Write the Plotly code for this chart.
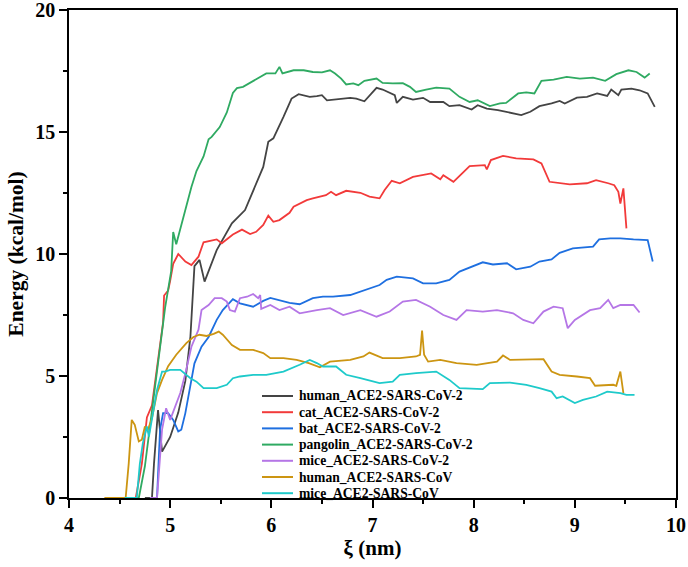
import plotly.graph_objects as go

# ---- data ----
human_cov2_x = [4.75, 4.82, 4.84, 4.88, 4.92, 5.0, 5.08, 5.15, 5.2, 5.23, 5.24, 5.29, 5.34, 5.46, 5.49, 5.61, 5.74, 5.85, 5.92, 5.97, 6.02, 6.12, 6.2, 6.27, 6.38, 6.45, 6.5, 6.55, 6.65, 6.78, 6.84, 6.92, 7.04, 7.1, 7.22, 7.24, 7.3, 7.4, 7.5, 7.57, 7.7, 7.76, 7.86, 7.98, 8.04, 8.13, 8.24, 8.36, 8.47, 8.56, 8.65, 8.77, 8.85, 8.9, 9.02, 9.12, 9.22, 9.32, 9.36, 9.43, 9.46, 9.56, 9.64, 9.72, 9.79]
human_cov2_y = [0, 0, 1.4, 3.6, 1.9, 2.5, 3.5, 4.8, 6.6, 8.9, 9.5, 9.76, 8.87, 10.16, 10.37, 11.26, 11.8, 12.9, 13.57, 14.6, 14.74, 15.62, 16.37, 16.55, 16.44, 16.47, 16.51, 16.3, 16.34, 16.4, 16.37, 16.26, 16.81, 16.74, 16.51, 16.19, 16.44, 16.33, 16.4, 16.23, 16.23, 16.06, 16.1, 15.92, 16.1, 15.96, 15.9, 15.78, 15.69, 15.83, 16.06, 16.17, 16.27, 16.17, 16.41, 16.44, 16.58, 16.48, 16.74, 16.51, 16.74, 16.78, 16.71, 16.58, 16.03]

cat_x = [4.6, 4.66, 4.72, 4.77, 4.82, 4.85, 4.88, 4.93, 4.94, 4.98, 5.0, 5.03, 5.08, 5.15, 5.21, 5.28, 5.33, 5.46, 5.51, 5.62, 5.71, 5.79, 5.85, 5.92, 5.97, 6.02, 6.08, 6.18, 6.22, 6.35, 6.41, 6.54, 6.59, 6.64, 6.74, 6.88, 6.97, 7.07, 7.12, 7.19, 7.27, 7.4, 7.58, 7.67, 7.7, 7.8, 7.96, 8.11, 8.13, 8.17, 8.29, 8.42, 8.59, 8.67, 8.75, 8.85, 8.95, 9.12, 9.21, 9.33, 9.39, 9.43, 9.45, 9.48, 9.51]
cat_y = [0, 0, 1.4, 3.3, 3.8, 4.7, 5.8, 7.2, 8.3, 8.5, 8.9, 9.6, 10.0, 9.69, 9.55, 9.89, 10.48, 10.6, 10.44, 10.8, 11.0, 10.82, 10.91, 11.19, 11.57, 11.32, 11.39, 11.69, 11.94, 12.21, 12.28, 12.41, 12.55, 12.41, 12.59, 12.51, 12.35, 12.28, 12.62, 13.0, 12.9, 13.16, 13.3, 13.06, 13.23, 12.96, 13.6, 13.64, 13.47, 13.85, 14.02, 13.92, 13.88, 13.71, 12.96, 12.92, 12.85, 12.9, 13.03, 12.9, 12.82, 12.55, 12.07, 12.69, 11.05]

bat_x = [4.8, 4.87, 4.9, 4.93, 4.98, 5.03, 5.08, 5.11, 5.15, 5.18, 5.21, 5.24, 5.31, 5.38, 5.46, 5.52, 5.62, 5.69, 5.82, 5.92, 5.99, 6.08, 6.18, 6.28, 6.41, 6.51, 6.61, 6.78, 6.94, 7.07, 7.14, 7.24, 7.4, 7.5, 7.63, 7.76, 7.86, 7.9, 8.0, 8.09, 8.19, 8.33, 8.42, 8.56, 8.65, 8.77, 8.85, 8.98, 9.18, 9.24, 9.35, 9.45, 9.58, 9.72, 9.77]
bat_y = [0, 0, 2.8, 3.48, 3.48, 3.2, 2.73, 2.8, 3.48, 4.16, 4.84, 5.52, 6.2, 6.6, 7.3, 7.7, 8.15, 7.98, 7.84, 8.08, 8.2, 8.1, 8.0, 7.94, 8.19, 8.25, 8.25, 8.32, 8.53, 8.73, 8.94, 9.07, 9.0, 8.8, 8.8, 8.94, 9.28, 9.35, 9.51, 9.66, 9.57, 9.62, 9.37, 9.48, 9.69, 9.78, 10.05, 10.23, 10.3, 10.6, 10.64, 10.64, 10.6, 10.57, 9.69]

pangolin_x = [4.65, 4.69, 4.75, 4.85, 4.95, 5.01, 5.03, 5.06, 5.11, 5.15, 5.21, 5.26, 5.33, 5.38, 5.41, 5.49, 5.56, 5.62, 5.66, 5.72, 5.82, 5.89, 5.95, 6.04, 6.08, 6.11, 6.22, 6.32, 6.41, 6.5, 6.58, 6.63, 6.69, 6.74, 6.81, 6.86, 6.92, 7.04, 7.1, 7.2, 7.3, 7.37, 7.43, 7.53, 7.63, 7.76, 7.86, 7.96, 8.04, 8.16, 8.26, 8.32, 8.44, 8.52, 8.6, 8.67, 8.79, 8.92, 9.05, 9.18, 9.3, 9.41, 9.53, 9.61, 9.69, 9.74]
pangolin_y = [0, 0, 1.3, 4.5, 7.8, 9.3, 10.9, 10.4, 11.2, 11.9, 12.75, 13.4, 14.0, 14.7, 14.8, 15.2, 15.8, 16.6, 16.8, 16.85, 17.1, 17.26, 17.4, 17.4, 17.67, 17.4, 17.53, 17.53, 17.46, 17.44, 17.53, 17.4, 17.19, 16.95, 16.99, 16.92, 17.1, 17.19, 17.01, 16.99, 17.0, 16.85, 16.64, 16.74, 16.82, 16.78, 16.44, 16.23, 16.3, 16.06, 16.17, 16.19, 16.58, 16.62, 16.58, 17.1, 17.15, 17.26, 17.19, 17.23, 17.1, 17.37, 17.53, 17.46, 17.23, 17.4]

mice_cov2_x = [4.8, 4.87, 4.92, 4.96, 5.0, 5.03, 5.1, 5.15, 5.21, 5.28, 5.31, 5.38, 5.44, 5.51, 5.56, 5.59, 5.64, 5.69, 5.76, 5.82, 5.87, 5.89, 5.9, 5.99, 6.08, 6.18, 6.28, 6.45, 6.58, 6.71, 6.88, 7.04, 7.17, 7.3, 7.43, 7.57, 7.7, 7.83, 7.93, 8.09, 8.23, 8.39, 8.49, 8.59, 8.69, 8.79, 8.88, 8.93, 9.0, 9.15, 9.25, 9.33, 9.38, 9.45, 9.58, 9.64]
mice_cov2_y = [0, 0, 2.8, 3.68, 3.2, 3.55, 4.3, 5.1, 6.2, 6.9, 7.7, 7.91, 8.19, 8.19, 8.05, 7.7, 7.64, 8.19, 8.25, 8.36, 8.19, 8.32, 7.75, 7.91, 7.7, 7.84, 7.57, 7.7, 7.78, 7.5, 7.7, 7.43, 7.64, 8.05, 8.12, 7.84, 7.5, 7.3, 7.7, 7.64, 7.7, 7.57, 7.3, 7.16, 7.64, 7.84, 7.78, 6.96, 7.3, 7.7, 7.78, 8.12, 7.78, 7.91, 7.91, 7.6]

human_cov_x = [4.35, 4.56, 4.59, 4.62, 4.65, 4.69, 4.72, 4.75, 4.78, 4.82, 4.87, 4.92, 4.98, 5.06, 5.16, 5.23, 5.29, 5.36, 5.43, 5.48, 5.52, 5.61, 5.69, 5.82, 5.92, 5.99, 6.12, 6.25, 6.37, 6.48, 6.58, 6.78, 6.91, 6.97, 7.1, 7.27, 7.43, 7.47, 7.49, 7.51, 7.55, 7.67, 7.83, 8.03, 8.23, 8.29, 8.36, 8.59, 8.69, 8.77, 8.85, 9.02, 9.15, 9.2, 9.38, 9.41, 9.45, 9.48]
human_cov_y = [0, 0, 1.4, 3.2, 3.0, 2.32, 2.39, 2.93, 2.8, 3.27, 4.3, 4.84, 5.4, 5.87, 6.35, 6.6, 6.69, 6.64, 6.73, 6.82, 6.69, 6.27, 6.07, 6.07, 5.94, 5.73, 5.73, 5.66, 5.53, 5.36, 5.59, 5.66, 5.8, 5.96, 5.73, 5.73, 5.8, 5.87, 6.86, 5.87, 5.59, 5.66, 5.53, 5.46, 5.59, 5.84, 5.66, 5.69, 5.69, 5.18, 5.05, 4.98, 4.91, 4.6, 4.64, 4.6, 5.18, 4.3]

mice_cov_x = [4.55, 4.67, 4.7, 4.73, 4.77, 4.79, 4.83, 4.87, 4.92, 4.95, 5.0, 5.1, 5.2, 5.26, 5.33, 5.46, 5.56, 5.62, 5.69, 5.82, 5.95, 6.12, 6.28, 6.38, 6.45, 6.51, 6.64, 6.74, 6.88, 7.07, 7.2, 7.27, 7.43, 7.63, 7.76, 7.86, 8.09, 8.16, 8.36, 8.52, 8.65, 8.77, 8.82, 8.88, 9.0, 9.08, 9.21, 9.32, 9.45, 9.51, 9.59]
mice_cov_y = [0, 0, 1.4, 2.25, 2.93, 2.52, 3.48, 4.43, 5.18, 5.18, 5.25, 5.25, 4.91, 4.77, 4.5, 4.5, 4.64, 4.91, 4.98, 5.05, 5.05, 5.18, 5.46, 5.66, 5.53, 5.39, 5.39, 5.05, 4.91, 4.71, 4.77, 5.05, 5.12, 5.18, 4.84, 4.5, 4.46, 4.71, 4.73, 4.64, 4.5, 4.36, 4.09, 4.16, 3.89, 4.02, 4.16, 4.36, 4.3, 4.23, 4.23]

names = ["human_ACE2-SARS-CoV-2", "cat_ACE2-SARS-CoV-2", "bat_ACE2-SARS-CoV-2",
         "pangolin_ACE2-SARS-CoV-2", "mice_ACE2-SARS-CoV-2", "human_ACE2-SARS-CoV",
         "mice_ACE2-SARS-CoV"]
colors = ["#444444", "#F23A3A", "#1E6FE0", "#2FAA62", "#B576E6", "#CC9512", "#1ECACA"]
xs = [human_cov2_x, cat_x, bat_x, pangolin_x, mice_cov2_x, human_cov_x, mice_cov_x]
ys = [human_cov2_y, cat_y, bat_y, pangolin_y, mice_cov2_y, human_cov_y, mice_cov_y]

x_ticks = [4, 5, 6, 7, 8, 9, 10]
y_ticks = [0, 5, 10, 15, 20]

FONT = "Liberation Serif, Times New Roman, serif"

W, H = 688, 567
ML, MR, MT, MB = 69, 12, 10, 69
PW, PH = W - ML - MR, H - MT - MB

fig = go.Figure()
for n, c, x, y in zip(names, colors, xs, ys):
    fig.add_trace(go.Scatter(x=x, y=y, mode="lines", name=n,
                             line=dict(color=c, width=1.8), showlegend=False))

# legend drawn compactly (line sample + label per series), in paper coordinates
leg_x0, leg_x1, leg_tx = 262, 293, 297      # pixel positions of legend sample / text
leg_y0, leg_dy = 396, 16.2
for i, (n, c) in enumerate(zip(names, colors)):
    py = leg_y0 + i * leg_dy
    yp = (H - MB - py) / PH
    fig.add_shape(type="line", xref="paper", yref="paper",
                  x0=(leg_x0 - ML) / PW, x1=(leg_x1 - ML) / PW, y0=yp, y1=yp,
                  line=dict(color=c, width=2))
    fig.add_annotation(xref="paper", yref="paper", x=(leg_tx - ML) / PW, y=yp,
                       text=n, showarrow=False, xanchor="left", yanchor="middle",
                       font=dict(family=FONT, size=13.6, color="black", weight="bold"))

axis_common = dict(
    showgrid=False, zeroline=False, showline=True, linecolor="black", linewidth=1.6,
    mirror=True, ticks="outside", ticklen=8, tickwidth=1.5, tickcolor="black",
    automargin=False, ticklabeloverflow="allow",
    tickfont=dict(family=FONT, size=20, color="black", weight="bold"),
)

fig.update_xaxes(range=[4, 10], tickvals=x_ticks,
                 minor=dict(ticks="outside", ticklen=4, tickwidth=1.5, tickcolor="black", dtick=0.5),
                 title=dict(text="ξ (nm)", font=dict(family=FONT, size=21, color="black", weight="bold"), standoff=0),
                 **axis_common)
fig.update_yaxes(range=[0, 20], tickvals=y_ticks,
                 minor=dict(ticks="outside", ticklen=4, tickwidth=1.5, tickcolor="black", dtick=2.5),
                 title=dict(text="Energy (kcal/mol)", font=dict(family=FONT, size=21.5, color="black", weight="bold"), standoff=6),
                 **axis_common)

fig.update_layout(
    width=W, height=H,
    margin=dict(l=ML, r=MR, t=MT, b=MB),
    plot_bgcolor="white", paper_bgcolor="white",
    showlegend=False,
)

fig.write_html("out.html", config={"displayModeBar": False},
               post_script="document.body.style.margin='0px';")
